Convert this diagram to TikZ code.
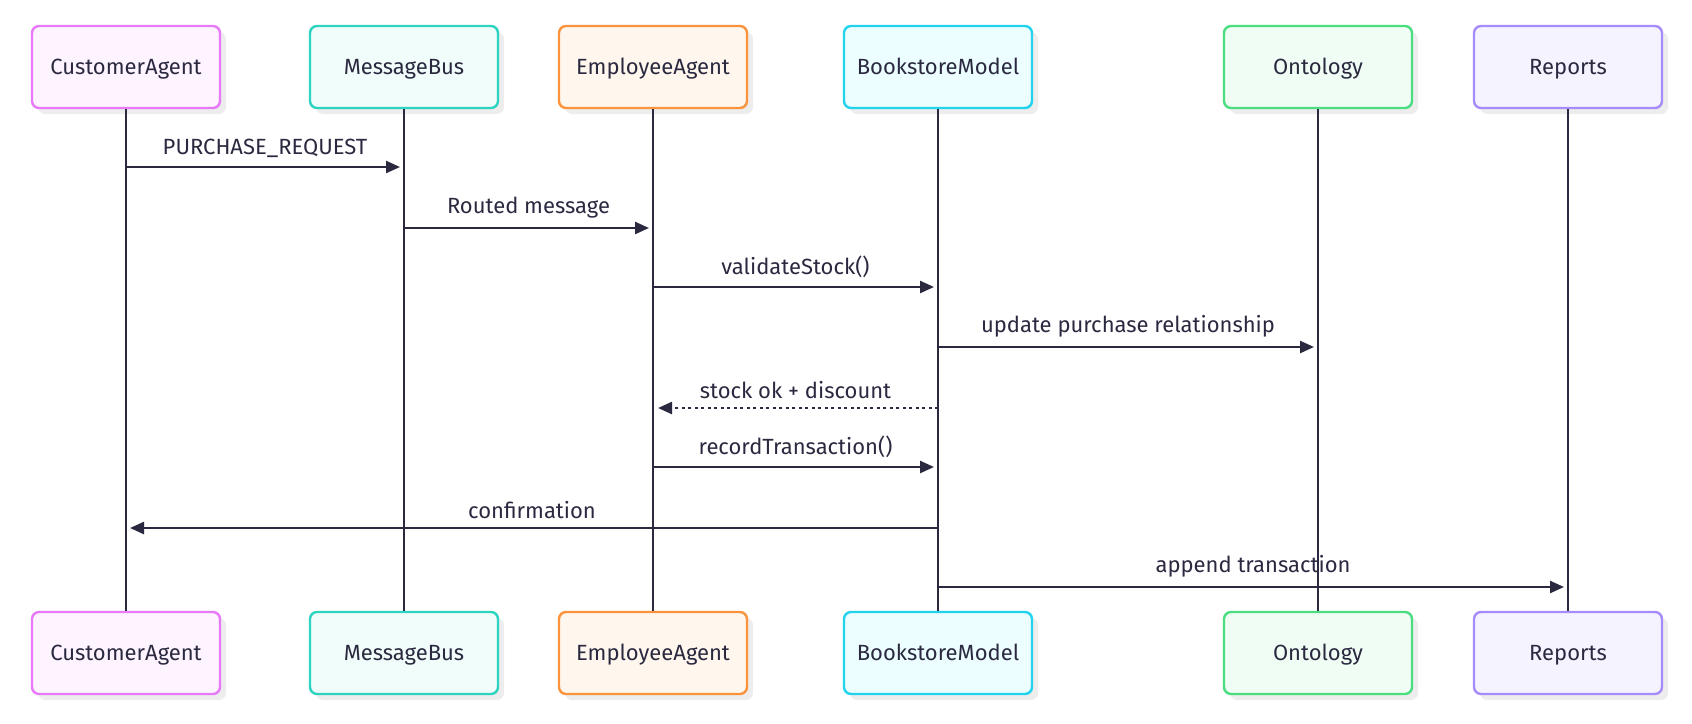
\documentclass[tikz,border=0pt]{standalone}
\usepackage{fontspec}
\setmainfont{Fira Sans}
\usetikzlibrary{arrows.meta,shadows}

\definecolor{ink}{HTML}{2A2940}
\definecolor{pinkline}{HTML}{E879F9}\definecolor{pinkfill}{HTML}{FDF4FF}
\definecolor{tealline}{HTML}{2DD4BF}\definecolor{tealfill}{HTML}{F0FDFA}
\definecolor{orangeline}{HTML}{FB923C}\definecolor{orangefill}{HTML}{FFF7ED}
\definecolor{cyanline}{HTML}{22D3EE}\definecolor{cyanfill}{HTML}{ECFEFF}
\definecolor{greenline}{HTML}{4ADE80}\definecolor{greenfill}{HTML}{F0FDF4}
\definecolor{violetline}{HTML}{A78BFA}\definecolor{violetfill}{HTML}{F5F3FF}

\begin{document}
\begin{tikzpicture}[x=1pt,y=-1pt,
        actor/.style={
          draw=#1line,fill=#1fill,line width=2.4pt,rounded corners=7pt,
          minimum width=188pt,minimum height=82pt,text=ink,
          text height=15pt,text depth=0pt,
          font=\fontsize{22}{26}\selectfont,
          drop shadow={shadow xshift=6pt,shadow yshift=-6pt,fill=black!7,opacity=1}
        },
        life/.style={ink,line width=2.4pt},
        msg/.style={ink,line width=2.4pt,-{Triangle[length=14pt,width=12pt]},shorten >=4pt},
        reply/.style={msg,dash pattern=on 3pt off 3.5pt,shorten >=5pt},
        lbl/.style={above=5pt,text=ink,font=\fontsize{22}{26}\selectfont}
      ]
      \useasboundingbox (0,0) rectangle (1692,723);
      % participants, top and bottom
      \foreach \n/\x/\c/\t in {ca/126/pink/CustomerAgent,mb/404/teal/MessageBus,
          ea/653/orange/EmployeeAgent,bm/938/cyan/BookstoreModel,
          on/1318/green/Ontology,rp/1568/violet/Reports}{
        \node [actor=\c] (\n T) at (\x,67) {\t};
        \node [actor=\c] (\n B) at (\x,653) {\t};
        \draw [life] (\n T) -- (\n B);
      }
      % messages
      \draw [msg] (caT |- 0,167) -- (mbT |- 0,167) node [lbl,midway] {PURCHASE\_REQUEST};
      \draw [msg] (mbT |- 0,228) -- (eaT |- 0,228) node [lbl,midway] {Routed message};
      \draw [msg] (eaT |- 0,287) -- (bmT |- 0,287) node [lbl,midway] {validateStock()};
      \draw [msg] (bmT |- 0,347) -- (onT |- 0,347) node [lbl,midway] {update purchase relationship};
      \draw [reply] (bmT |- 0,408) -- (eaT |- 0,408) node [lbl,midway] {stock ok + discount};
      \draw [msg] (eaT |- 0,467) -- (bmT |- 0,467) node [lbl,midway] {recordTransaction()};
      \draw [msg] (bmT |- 0,528) -- (caT |- 0,528) node [lbl,midway] {confirmation};
      \draw [msg] (bmT |- 0,587) -- (rpT |- 0,587) node [lbl,midway] {append transaction};
    \end{tikzpicture}
\end{document}
